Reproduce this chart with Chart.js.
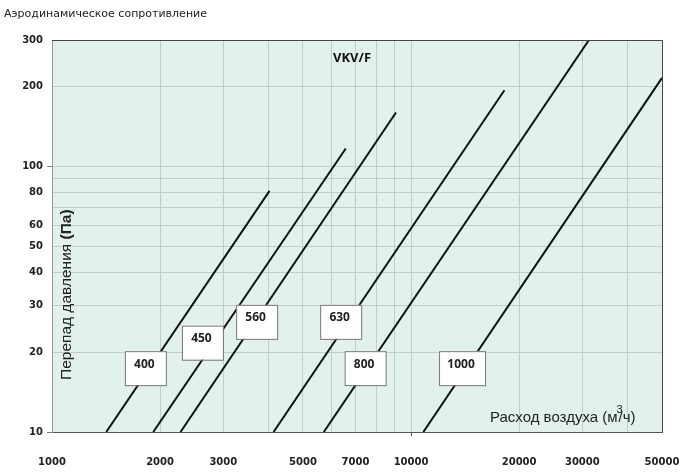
<!DOCTYPE html>
<html>
<head>
<meta charset="utf-8">
<script src="https://cdn.jsdelivr.net/npm/chart.js@4.4.0/dist/chart.umd.min.js"></script>
<style>
  html, body { margin: 0; padding: 0; background: #fff; }
  #wrap { width: 681px; height: 475px; position: relative; }
</style>
</head>
<body>
<div id="wrap"><canvas id="chart"></canvas></div>
<script>
// sizes of the damper (labels in boxes)
var sizes = ["400", "450", "560", "630", "800", "1000"];
// air flow (m3/h) at start and end of every line
var flowStart = [1416, 1914, 2280, 4140, 5714, 10820];
var flowEnd   = [4035, 6580, 9080, 18200, 31300, 50000];
// pressure drop (Pa) at start and end of every line
var dpStart = [10, 10, 10, 10, 10, 10];
var dpEnd   = [81, 117, 160, 194, 300, 216];
// where the label boxes sit (flow, pressure)
var labelFlow = [1820, 2624, 3715, 6368, 7450, 13870];
var labelDp   = [17.4, 21.7, 26.0, 26.0, 17.4, 17.4];

var xTicks = [1000,2000,3000,4000,5000,6000,7000,8000,9000,10000,20000,30000,40000,50000];
var xLabels = [1000,2000,3000,5000,7000,10000,20000,30000,50000];
var yTicks = [10,20,30,40,50,60,70,80,90,100,200,300];
var yLabels = [10,20,30,40,50,60,80,100,200,300];

var bg = '#e2f2ea';
var gridCol = '#bfcfc7';

var datasets = [];
for (var i = 0; i < sizes.length; i++) {
    datasets.push({
        label: sizes[i],
        data: [{x: flowStart[i], y: dpStart[i]}, {x: flowEnd[i], y: dpEnd[i]}],
        borderColor: '#111',
        borderWidth: 2,
        pointRadius: 0,
        fill: false
    });
}

var plotBg = {
    id: 'plotBg',
    beforeDraw: function(chart) {
        var a = chart.chartArea, ctx = chart.ctx;
        ctx.save();
        ctx.fillStyle = bg;
        ctx.fillRect(a.left, a.top, a.right - a.left, a.bottom - a.top);
        ctx.restore();
    },
    afterDatasetsDraw: function(chart) {
        var a = chart.chartArea, ctx = chart.ctx;
        var xs = chart.scales.x, ys = chart.scales.y;
        ctx.save();
        // frame
        ctx.strokeStyle = '#444';
        ctx.lineWidth = 1;
        ctx.beginPath();
        ctx.moveTo(a.left, a.top + 0.5); ctx.lineTo(a.right + 0.5, a.top + 0.5);
        ctx.lineTo(a.right + 0.5, a.bottom);
        ctx.stroke();

        // label boxes
        ctx.font = 'bold 12px "Open Sans", sans-serif';
        ctx.textAlign = 'center';
        ctx.textBaseline = 'middle';
        for (var i = 0; i < sizes.length; i++) {
            var cx = xs.getPixelForValue(labelFlow[i]);
            var cy = ys.getPixelForValue(labelDp[i]);
            var w = sizes[i].length > 3 ? 46 : 41;
            ctx.fillStyle = '#fff';
            ctx.fillRect(cx - w / 2, cy - 17, w, 34);
            ctx.strokeStyle = '#777';
            ctx.strokeRect(cx - w / 2 + 0.5, cy - 16.5, w, 34);
            ctx.fillStyle = '#222';
            ctx.fillText(sizes[i], cx - 1, cy - 4);
        }

        // VKV/F
        ctx.textAlign = 'left';
        ctx.font = 'bold 13px "Open Sans", sans-serif';
        ctx.fillStyle = '#111';
        ctx.fillText('VKV/F', 333, 58);

        // x axis title
        ctx.font = '15px "Liberation Sans", Arial, sans-serif';
        ctx.fillStyle = '#222';
        var t1 = 'Расход воздуха (м';
        var x0 = 490;
        ctx.fillText(t1, x0, 418);
        var w0 = ctx.measureText(t1).width;
        ctx.fillText('/ч)', x0 + w0 + 1, 418);
        ctx.font = '11px "Liberation Sans", Arial, sans-serif';
        ctx.fillText('3', x0 + w0 - 1, 410);

        // y axis title, rotated
        ctx.translate(67, 380);
        ctx.rotate(-Math.PI / 2);
        ctx.textAlign = 'left';
        ctx.font = '15.5px "Liberation Sans", Arial, sans-serif';
        ctx.fillText('Перепад давления ', 0, 0);
        var w1 = ctx.measureText('Перепад давления ').width;
        ctx.font = 'bold 15.5px "Liberation Sans", Arial, sans-serif';
        ctx.fillText('(Па)', w1, 0);
        ctx.restore();

        // page title
        ctx.save();
        ctx.font = '11px "DejaVu Sans", sans-serif';
        ctx.fillStyle = '#222';
        ctx.textBaseline = 'middle';
        ctx.fillText('Аэродинамическое сопротивление', 4, 14);
        ctx.restore();
    }
};

var ctx = document.getElementById('chart').getContext('2d');
new Chart(ctx, {
    type: 'line',
    data: { datasets: datasets },
    plugins: [plotBg],
    options: {
        responsive: true,
        maintainAspectRatio: false,
        animation: false,
        layout: { padding: { top: 40, right: 0, left: 0, bottom: 0 } },
        plugins: { legend: { display: false }, tooltip: { enabled: false }, title: { display: false } },
        scales: {
            x: {
                type: 'logarithmic',
                min: 1000, max: 50000,
                afterBuildTicks: function(s) { s.ticks = xTicks.map(function(v) { return {value: v}; }); },
                afterFit: function(s) { s.height = 43; s.paddingRight = 19; },
                border: { color: '#555', width: 1 },
                grid: {
                    color: function(c) { return (c.tick && (c.tick.value === 1000 || c.tick.value === 50000)) ? 'rgba(0,0,0,0)' : gridCol; },
                    tickColor: function(c) { return (c.tick && c.tick.value === 10000) ? '#555' : 'rgba(0,0,0,0)'; },
                    tickLength: 4,
                    drawTicks: true
                },
                ticks: {
                    autoSkip: false,
                    maxRotation: 0,
                    padding: 20,
                    color: '#222',
                    font: { family: '"DejaVu Sans", Verdana, sans-serif', size: 10, weight: 'bold' },
                    callback: function(v) { return xLabels.indexOf(v) >= 0 ? String(v) : ''; }
                }
            },
            y: {
                type: 'logarithmic',
                min: 10, max: 300,
                afterBuildTicks: function(s) { s.ticks = yTicks.map(function(v) { return {value: v}; }); },
                afterFit: function(s) { s.width = 52; },
                border: { color: '#999', width: 1 },
                grid: {
                    color: function(c) { return (c.tick && (c.tick.value === 10 || c.tick.value === 300)) ? 'rgba(0,0,0,0)' : gridCol; },
                    tickColor: function(c) { return (c.tick && (c.tick.value === 10 || c.tick.value === 100)) ? '#777' : 'rgba(0,0,0,0)'; },
                    tickLength: 5
                },
                ticks: {
                    autoSkip: false,
                    padding: 4,
                    color: '#222',
                    font: { family: '"DejaVu Sans", Verdana, sans-serif', size: 10, weight: 'bold' },
                    callback: function(v) { return yLabels.indexOf(v) >= 0 ? String(v) : ''; }
                }
            }
        }
    }
});
</script>
</body>
</html>
